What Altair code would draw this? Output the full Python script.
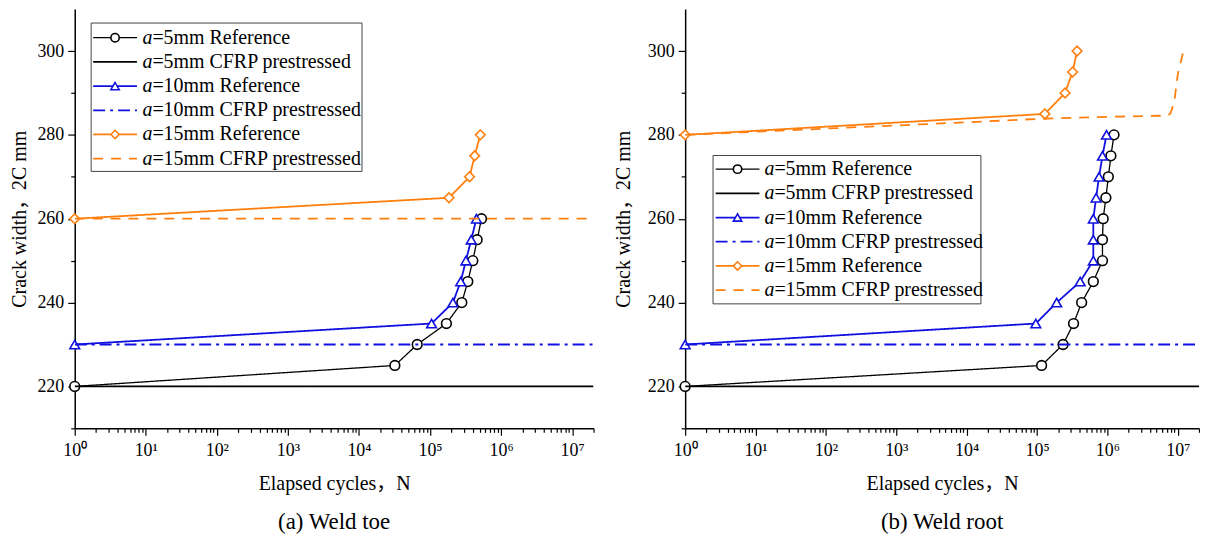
import altair as alt
import pandas as pd

FONT = "Liberation Serif"
TITLE_FONT = "Liberation Serif, Noto Sans CJK SC"

# ---------------- data ----------------
SERIES = ["a=5mm Reference", "a=5mm CFRP prestressed",
          "a=10mm Reference", "a=10mm CFRP prestressed",
          "a=15mm Reference", "a=15mm CFRP prestressed"]
LEGEND_REST = ["=5mm Reference", "=5mm CFRP prestressed",
               "=10mm Reference", "=10mm CFRP prestressed",
               "=15mm Reference", "=15mm CFRP prestressed"]

# (a) Weld toe
toe_ref5_N = [1, 3.2e4, 6.6e4, 1.7e5, 2.8e5, 3.4e5, 4.0e5, 4.6e5, 5.3e5]
toe_ref5_W = [220, 225, 230, 235, 240, 245, 250, 255, 260]
toe_cfrp5_N = [1, 2e7]
toe_cfrp5_W = [220, 220]
toe_ref10_N = [1, 1.05e5, 2.1e5, 2.7e5, 3.2e5, 3.8e5, 4.5e5]
toe_ref10_W = [230, 235, 240, 245, 250, 255, 260]
toe_cfrp10_N = [1, 2e7]
toe_cfrp10_W = [230, 230]
toe_ref15_N = [1, 1.85e5, 3.6e5, 4.25e5, 5.1e5]
toe_ref15_W = [260, 265, 270, 275, 280]
toe_cfrp15_N = [1, 2e7]
toe_cfrp15_W = [260, 260]

# (b) Weld root
root_ref5_N = [1, 1.16e5, 2.34e5, 3.3e5, 4.3e5, 6.3e5, 8.5e5, 8.5e5, 8.7e5,
               9.5e5, 1.03e6, 1.12e6, 1.24e6]
root_ref5_W = [220, 225, 230, 235, 240, 245, 250, 255, 260, 265, 270, 275, 280]
root_cfrp5_N = [1, 2e7]
root_cfrp5_W = [220, 220]
root_ref10_N = [1, 9.6e4, 1.9e5, 4.1e5, 6.3e5, 6.3e5, 6.3e5, 6.9e5, 7.6e5,
                8.5e5, 9.7e5]
root_ref10_W = [230, 235, 240, 245, 250, 255, 260, 265, 270, 275, 280]
root_cfrp10_N = [1, 2e7]
root_cfrp10_W = [230, 230]
root_ref15_N = [1, 1.29e5, 2.5e5, 3.2e5, 3.7e5]
root_ref15_W = [280, 285, 290, 295, 300]
root_cfrp15_N = [1, 1e2, 1e4, 1e5, 1e6, 7.2e6, 7.9e6, 8.5e6, 9.0e6, 1.0e7, 1.2e7]
root_cfrp15_W = [280, 281.5, 283, 283.8, 284.3, 284.6, 285.2, 286.8, 288.5,
                 294.5, 300]

X_TICKS = [m * 10 ** p for p in range(0, 8) for m in range(1, 10) if m * 10 ** p <= 2e7]
Y_TICKS = list(range(210, 301, 10))

# ---------------- styles ----------------
BLACK = "#000000"
BLUE = "#1010E0"
ORANGE = "#FF7F0E"
STYLE = {
    SERIES[0]: dict(color=BLACK, dash=[1, 0], shape="circle", width=1.3),
    SERIES[1]: dict(color=BLACK, dash=[1, 0], shape=None, width=1.9),
    SERIES[2]: dict(color=BLUE, dash=[1, 0], shape="triangle-up", width=1.8),
    SERIES[3]: dict(color=BLUE, dash=[12, 5, 3, 5], shape=None, width=1.8),
    SERIES[4]: dict(color=ORANGE, dash=[1, 0], shape="diamond", width=1.8),
    SERIES[5]: dict(color=ORANGE, dash=[10, 8], shape=None, width=1.8),
}

MAJOR_X = "abs(log(datum.value)/LN10 - round(log(datum.value)/LN10)) < 1e-6"
SUP = "['\u2070','\u00b9','\u00b2','\u00b3','\u2074','\u2075','\u2076','\u2077']"

x_scale = alt.Scale(type="log", domain=[1, 2e7], nice=False)
y_scale = alt.Scale(domain=[210, 310], nice=False, zero=False)

x_axis = alt.Axis(
    values=X_TICKS,
    labelExpr=f"{MAJOR_X} ? '10' + {SUP}[round(log(datum.value)/LN10)] : ''",
    tickSize={"condition": {"test": MAJOR_X, "value": 7}, "value": 4},
    labelOverlap=False, labelFlush=False, labelPadding=6,
    title="Elapsed cycles\uff0cN", titlePadding=14, titleFont=TITLE_FONT,
)


def make_y_axis(title_pad):
    return alt.Axis(
        values=Y_TICKS,
        labelExpr="datum.value % 20 == 0 ? datum.label : ''",
        tickSize={"condition": {"test": "datum.value % 20 == 0", "value": 7},
                  "value": 4},
        labelOverlap=False, labelFlush=False, labelPadding=4,
        title="Crack width\uff0c2C mm", titlePadding=title_pad,
        titleFont=TITLE_FONT,
    )


def series_layers(data, y_axis):
    layers = []
    for name, (ns, ws) in data.items():
        st = STYLE[name]
        df = pd.DataFrame({"N": ns, "W": ws, "i": list(range(len(ns)))})
        enc = dict(x=alt.X("N:Q", scale=x_scale, axis=x_axis),
                   y=alt.Y("W:Q", scale=y_scale, axis=y_axis))
        layers.append(
            alt.Chart(df).mark_line(color=st["color"], strokeDash=st["dash"],
                                    strokeWidth=st["width"], clip=True)
            .encode(order="i:Q", **enc))
        if st["shape"]:
            layers.append(
                alt.Chart(df).mark_point(shape=st["shape"], size=95, filled=False,
                                         fill="white", fillOpacity=1,
                                         stroke=st["color"], strokeWidth=1.6,
                                         opacity=1)
                .encode(**enc))
    return layers


def legend_layers(box, row0, sym_x0, sym_x1, text_x):
    dummy = pd.DataFrame({"k": [0]})
    bx0, by0, bx1, by1 = box
    layers = [alt.Chart(dummy).mark_rect(fill="white", stroke="#444444",
                                         strokeWidth=1)
              .encode(x=alt.value(bx0), x2=alt.value(bx1),
                      y=alt.value(by0), y2=alt.value(by1))]
    for i, name in enumerate(SERIES):
        st = STYLE[name]
        ry = row0 + 24.3 * i
        layers.append(alt.Chart(dummy).mark_rule(color=st["color"],
                                                 strokeDash=st["dash"],
                                                 strokeWidth=st["width"])
                      .encode(x=alt.value(sym_x0), x2=alt.value(sym_x1),
                              y=alt.value(ry)))
        if st["shape"]:
            layers.append(alt.Chart(dummy).mark_point(
                shape=st["shape"], size=70, filled=False, fill="white",
                fillOpacity=1, stroke=st["color"], strokeWidth=1.6, opacity=1)
                .encode(x=alt.value((sym_x0 + sym_x1) / 2), y=alt.value(ry)))
        layers.append(alt.Chart(dummy).mark_text(
            align="left", baseline="middle", font=FONT, fontSize=20,
            fontStyle="italic", color="black")
            .encode(x=alt.value(text_x), y=alt.value(ry), text=alt.value("a")))
        layers.append(alt.Chart(dummy).mark_text(
            align="left", baseline="middle", font=FONT, fontSize=20,
            color="black")
            .encode(x=alt.value(text_x + 10), y=alt.value(ry),
                    text=alt.value(LEGEND_REST[i])))
    return layers


toe_data = {
    SERIES[0]: (toe_ref5_N, toe_ref5_W),
    SERIES[1]: (toe_cfrp5_N, toe_cfrp5_W),
    SERIES[2]: (toe_ref10_N, toe_ref10_W),
    SERIES[3]: (toe_cfrp10_N, toe_cfrp10_W),
    SERIES[4]: (toe_ref15_N, toe_ref15_W),
    SERIES[5]: (toe_cfrp15_N, toe_cfrp15_W),
}
root_data = {
    SERIES[0]: (root_ref5_N, root_ref5_W),
    SERIES[1]: (root_cfrp5_N, root_cfrp5_W),
    SERIES[2]: (root_ref10_N, root_ref10_W),
    SERIES[3]: (root_cfrp10_N, root_cfrp10_W),
    SERIES[4]: (root_ref15_N, root_ref15_W),
    SERIES[5]: (root_cfrp15_N, root_cfrp15_W),
}


def subtitle(text):
    return alt.TitleParams(text=text, orient="bottom", anchor="middle",
                           font=FONT, fontSize=23, fontWeight="normal",
                           color="black", offset=18)


left = alt.layer(
    *series_layers(toe_data, make_y_axis(7)),
    *legend_layers((16.5, 14, 288.5, 163), 28.7, 18.5, 62.5, 68),
).properties(width=521, height=421, title=subtitle("(a) Weld toe"))

right = alt.layer(
    *series_layers(root_data, make_y_axis(14)),
    *legend_layers((28, 147, 297, 296), 160.7, 30.6, 74.6, 79.6),
).properties(width=516, height=421, title=subtitle("(b) Weld root"))

chart = alt.hconcat(left, right, spacing=19).properties(
    padding={"left": 2, "top": 0, "right": 0, "bottom": 0}
).configure_view(stroke=None).configure_axis(
    grid=False, domainColor="black", domainWidth=1.5, tickColor="black",
    tickWidth=1.2, labelColor="black", labelFont=FONT, labelFontSize=18,
    titleColor="black", titleFont=FONT, titleFontSize=20,
    titleFontWeight="normal",
)

chart.save("out.html", embed_options={"renderer": "svg", "actions": False})
